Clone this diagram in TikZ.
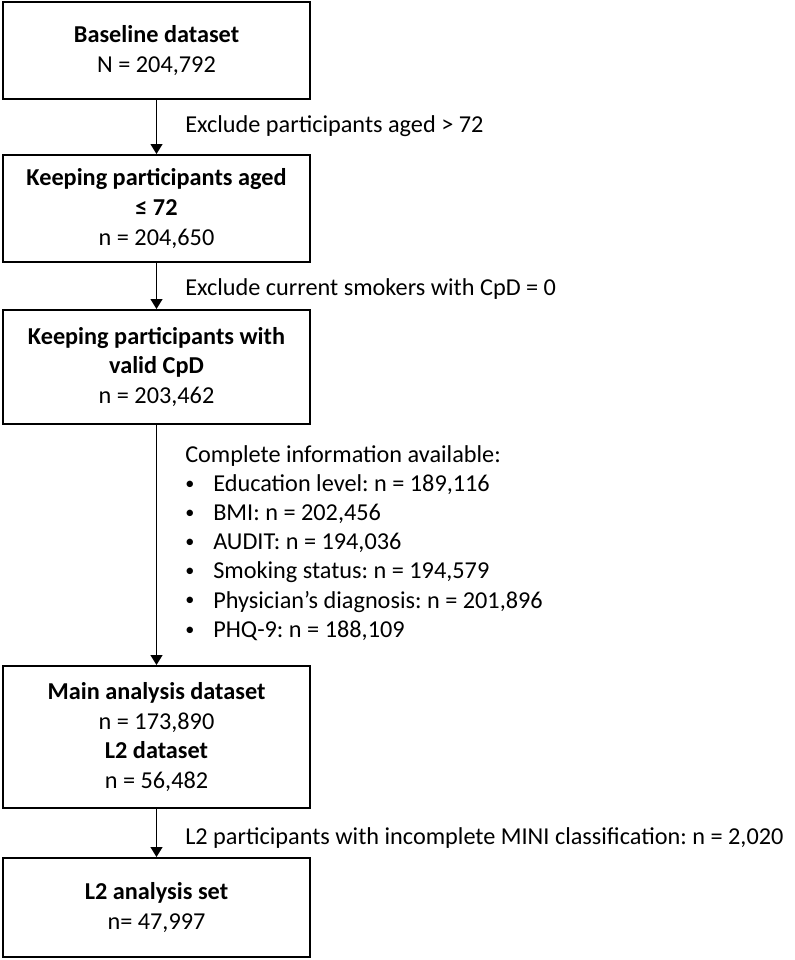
\documentclass[tikz,border=0pt]{standalone}
\usepackage{fontspec}
\usepackage{graphicx}
\setmainfont{Carlito}
\frenchspacing
\usetikzlibrary{arrows.meta}
\newcommand{\smbul}{\makebox[21pt][l]{\raisebox{1.6pt}{\scalebox{0.75}{\textbullet}}}}
\begin{document}
\begin{tikzpicture}[x=0.75pt,y=-0.75pt,
  box/.style={draw,line width=1.5pt,minimum width=230.25pt,align=center,inner sep=0pt,
    font=\fontsize{18.2}{22.3}\selectfont},
  lbl/.style={inner sep=0pt,anchor=west,align=left,font=\fontsize{18.2}{21.9}\selectfont},
  arr/.style={line width=0.9pt,-{Triangle[width=9pt,length=7.5pt]}}]
\useasboundingbox (0,0) rectangle (794,960);
\node[box,minimum height=72.75pt] (b1) at (156.5,50.5) {\textbf{Baseline dataset}\\N = 204,792};
\node[box,minimum height=80.25pt] (b2) at (156.5,208.5) {\textbf{Keeping participants aged}\\\textbf{≤ 72}\\n = 204,650};
\node[box,minimum height=85.5pt] (b3) at (156.5,367) {\textbf{Keeping participants with}\\\textbf{valid CpD}\\n = 203,462};
\node[box,minimum height=106.5pt] (b4) at (156.5,737) {\textbf{Main analysis dataset}\\n = 173,890\\\textbf{L2 dataset}\\n = 56,482};
\node[box,minimum height=74.25pt] (b5) at (156.5,907.5) {\textbf{L2 analysis set}\\n= 47,997};
\draw[arr] (b1) -- (b2);
\draw[arr] (b2) -- (b3);
\draw[arr] (b3) -- (b4);
\draw[arr] (b4) -- (b5);
\node[lbl] (l1) at (185,126) {Exclude participants aged > 72};
\node[lbl] (l2) at (185,289) {Exclude current smokers with CpD = 0};
\node[lbl,anchor=north west] (l3) at (185,445) {Complete information available:\\
\smbul Education level: n = 189,116\\
\smbul BMI: n = 202,456\\
\smbul AUDIT: n = 194,036\\
\smbul Smoking status: n = 194,579\\
\smbul Physician’s diagnosis: n = 201,896\\
\smbul PHQ-9: n = 188,109};
\node[lbl] (l4) at (185,838) {L2 participants with incomplete MINI classification: n = 2,020};
\end{tikzpicture}
\end{document}
